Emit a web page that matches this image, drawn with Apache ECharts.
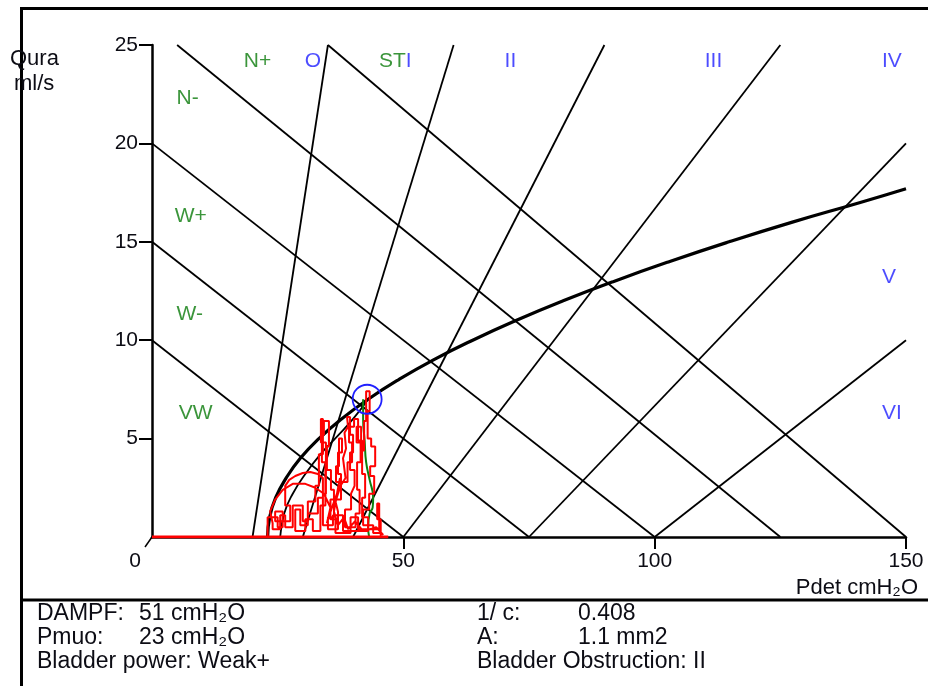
<!DOCTYPE html>
<html><head><meta charset="utf-8">
<script src="https://cdn.jsdelivr.net/npm/echarts@6/dist/echarts.min.js"></script>
<style>html,body{margin:0;padding:0;background:#fff}#c{width:928px;height:686px}</style>
</head><body><div id="c"></div>
<script>
const FONT = '"Liberation Sans", Arial, sans-serif';
const xLabelValues = [0, 50, 100, 150];
const xTickValues = [50, 100, 150];
const yTickValues = [5, 10, 15, 20, 25];

// bladder power (descending) lines: [pdet0, Q0, pdet1, Q1]
const powerLines = [[0, 10, 50, 0], [0, 15, 75, 0], [0, 20, 100, 0], [5, 25, 125, 0], [35, 25, 150, 0]];
// obstruction (ascending) lines
const obstructionLines = [[20, 0, 35, 25], [30, 0, 60, 25], [40, 0, 90, 25], [50, 0, 125, 25], [75, 0, 150, 20], [100, 0, 150, 10]];

// PURR curve
const purrP = [23, 23.4, 24.6, 26.7, 29.5, 33.2, 37.7, 43, 49.1, 56, 63.8, 72.4, 81.8, 92, 103, 114.8, 127.4, 140.9, 150];
const purrQ = [0, 1, 2, 3, 4, 5, 6, 7, 8, 9, 10, 11, 12, 13, 14, 15, 16, 17, 17.7];

// inner curve around the trace
const innerP = [25.5, 26.3, 28.0, 30.5, 33.5, 36.8, 40.0, 43.0];
const innerQ = [0, 1.2, 2.2, 3.2, 4.2, 5.1, 6.0, 7.0];

// pressure-flow trace (red)
const traceP = [23.0,23.0,25.0,25.0,26.0,26.0,24.5,24.5,27.5,27.5,26.5,26.5,27.3,28.5,30.0,31.5,33.0,34.0,34.0,33.0,33.0,31.0,31.0,29.5,29.5,28.5,28.5,30.5,30.5,32.0,32.0,33.5,33.5,34.5,34.5,33.8,33.8,34.2,34.2,35.2,35.2,34.8,34.8,35.6,35.6,36.2,36.2,35.0,35.0,37.0,37.0,36.5,37.5,38.5,38.0,38.6,38.3,39.0,38.8,39.4,39.4,40.0,40.0,39.4,39.4,40.3,40.3,39.6,39.6,38.4,38.4,40.5,40.5,41.3,41.3,40.8,40.8,41.5,41.5,40.7,40.7,41.6,41.6,42.2,42.2,42.6,42.6,43.3,43.3,42.9,42.9,43.6,43.6,44.4,44.4,43.4,43.4,44.2,44.2,43.2,43.2,42.0,42.0,44.0,44.0,45.5,45.5,
  45.5,44.8,44.8,45.2,45.2,41.0,41.0,39.5,39.5,36.5,36.5,35.5,35.5,37.6,37.6,37.0,37.0,37.8,37.8,37.2,37.2,36.6,36.6,38.9,38.9,39.8,39.8,39.2,39.2,40.2,40.2,41.0,41.0,41.8,41.8,42.4,42.4,41.8,41.8,43.0,43.0,
  38.0,38.0,36.0,36.0,34.0,34.0,34.6,34.6,33.6,33.6,34.0,34.0,33.2,33.2,32.5,32.5,31.0,31.0,30.0,30.0,28.0,28.0,26.5,26.5,25.5,25.5,24.0,24.0,23.5,24.5,26.0,28.0,30.5,32.5,34.2,35.5,35.5,34.8,34.8,35.8,35.8,36.8,36.8,37.4,37.4,36.2,36.2,37.0,37.0,38.2,38.2,39.0,39.0,40.4,40.4,42.0,42.0,44.6,44.6,46.0,46.0];
const traceQ = [0.0,1.0,1.0,0.5,0.5,1.3,1.3,0.8,0.8,1.6,1.6,2.6,2.9,3.1,3.25,3.3,3.2,3.0,2.0,2.0,1.2,1.2,0.6,0.6,1.4,1.4,0.3,0.3,0.9,0.9,0.3,0.3,1.6,1.6,3.8,3.8,5.2,5.2,5.9,5.9,4.6,4.6,3.4,3.4,2.4,2.4,1.0,1.0,0.4,0.4,1.3,1.8,2.6,3.0,4.0,4.5,5.3,5.6,6.1,6.1,5.2,5.2,4.3,4.3,3.4,3.4,2.6,2.2,1.4,1.4,0.5,0.5,1.2,1.2,2.4,2.4,3.8,3.8,4.8,4.8,5.6,5.6,4.4,4.4,5.9,5.9,7.4,7.4,6.4,6.4,5.0,5.0,4.6,4.6,3.6,3.6,3.1,3.1,2.2,2.2,1.4,1.4,0.6,0.6,0.2,0.2,0.0,
  0.9,0.9,1.7,1.7,0.4,0.4,1.0,1.0,0.2,0.2,0.9,0.9,1.9,1.9,3.2,3.2,4.3,4.3,5.0,5.0,3.6,3.6,2.8,2.8,3.8,3.8,4.8,4.8,5.6,5.6,6.0,6.0,4.9,4.9,3.2,3.2,2.0,2.0,1.0,1.0,0.3,
  0.3,1.1,1.1,0.6,0.6,2.2,2.2,4.8,4.8,6.0,6.0,4.2,4.2,2.6,2.6,1.8,1.8,0.8,0.8,1.6,1.6,0.5,0.5,1.1,1.1,0.4,0.4,0.7,1.3,1.9,2.4,2.7,2.7,2.5,2.2,1.5,1.5,0.7,0.7,1.5,1.5,2.2,2.2,3.0,3.0,1.3,1.3,0.6,0.6,1.0,1.0,0.4,0.4,0.8,0.8,0.3,0.3,0.5,0.5,0.1,0.1];
const baselineP = [0, 47];
const baselineQ = [0, 0];

// green curve
const greenP = [42.0, 42.0, 42.3, 42.6, 43.3, 44.0, 43.9, 43.3, 43.0, 43.2];
const greenQ = [7.0, 6.0, 4.9, 3.8, 2.9, 2.0, 1.5, 1.2, 0.5, 0.0];

// marked point
const pointP = [42.8];
const pointQ = [7.0];

// zone labels
const zoneNames = ['N+', 'O', 'ST|I', 'II', 'III', 'IV', 'V', 'VI', 'N-', 'W+', 'W-', 'VW'];
const zoneP = [21.0, 32.0, 48.4, 71.3, 111.7, 147.2, 146.6, 147.2, 7.1, 7.7, 7.5, 8.7];
const zoneQ = [24.2, 24.2, 24.2, 24.2, 24.2, 24.2, 13.2, 6.3, 22.3, 16.3, 11.3, 6.3];
const zoneGroup = ['g', 'b', 'gb', 'b', 'b', 'b', 'b', 'b', 'g', 'g', 'g', 'g'];

const infoLeft = [['DAMPF:', '51 cmH₂O'], ['Pmuo:', '23 cmH₂O'], ['Bladder power: Weak+', '']];
const infoRight = [['1/ c:', '0.408'], ['A:', '1.1 mm2'], ['Bladder Obstruction: II', '']];

const GREEN = '#0a7a0a';
const BLUE = '#1f1fff';
const TXT = '#0c0c14';

const zip = (a, b) => a.map((v, i) => [v, b[i]]);

const series = [];
powerLines.concat(obstructionLines).forEach(l => {
  series.push({type: 'line', data: [[l[0], l[1]], [l[2], l[3]]], symbol: 'none', silent: true,
    lineStyle: {color: '#000', width: 1.8}, z: 2});
});
series.push({type: 'line', data: zip(purrP, purrQ), symbol: 'none', smooth: true, silent: true,
  lineStyle: {color: '#000', width: 3.2}, z: 3});
series.push({type: 'line', data: zip(innerP, innerQ), symbol: 'none', smooth: true, silent: true,
  lineStyle: {color: '#000', width: 1.8}, z: 3});
series.push({type: 'line', data: zip(traceP, traceQ), symbol: 'none', silent: true,
  lineStyle: {color: '#ff0000', width: 2}, z: 5});
series.push({type: 'line', data: zip(baselineP, baselineQ), symbol: 'none', silent: true,
  lineStyle: {color: '#ff0000', width: 3}, z: 6});
series.push({type: 'line', data: zip(greenP, greenQ), symbol: 'none', smooth: true, silent: true,
  lineStyle: {color: '#0f800f', width: 2}, z: 4});
series.push({type: 'scatter', data: zip(pointP, pointQ), symbol: 'circle', symbolSize: 29, silent: true,
  itemStyle: {color: 'rgba(255,255,255,0)', borderColor: '#2020ff', borderWidth: 1.8, opacity: 1}, z: 7});
series.push({type: 'scatter', symbolSize: 1, silent: true, itemStyle: {color: 'rgba(0,0,0,0)'}, z: 8,
  data: zoneNames.map((n, i) => ({value: [zoneP[i], zoneQ[i]], name: n})),
  label: {show: true, position: 'inside', fontFamily: FONT, fontSize: 21,
    formatter: p => {
      const g = zoneGroup[p.dataIndex];
      if (g === 'gb') { const s = p.name.split('|'); return '{g|' + s[0] + '}{b|' + s[1] + '}'; }
      return '{' + g + '|' + p.name + '}';
    },
    rich: {g: {color: GREEN, fontSize: 21, fontFamily: FONT}, b: {color: BLUE, fontSize: 21, fontFamily: FONT}}
  }
});

const PF = '23px ' + FONT;
const graphic = [
  {type: 'rect', shape: {x: 21.5, y: 8.5, width: 930, height: 700}, style: {fill: 'none', stroke: '#000', lineWidth: 3}, silent: true},
  {type: 'line', shape: {x1: 21.5, y1: 600, x2: 940, y2: 600}, style: {stroke: '#000', lineWidth: 3}, silent: true},
  {type: 'line', shape: {x1: 145, y1: 547, x2: 152, y2: 537}, style: {stroke: '#000', lineWidth: 1.5}, silent: true},
  {type: 'text', left: 10, top: 48, style: {text: 'Qura', font: '22px ' + FONT, fill: TXT}},
  {type: 'text', left: 14, top: 73, style: {text: 'ml/s', font: '22px ' + FONT, fill: TXT}},
  {type: 'text', right: 10, top: 577, style: {text: 'Pdet cmH₂O', font: '22px ' + FONT, fill: TXT}}
];
const rowsY = [602, 626, 650];
infoLeft.forEach((r, i) => {
  graphic.push({type: 'text', left: 37, top: rowsY[i], style: {text: r[0], font: PF, fill: TXT}});
  if (r[1]) graphic.push({type: 'text', left: 139, top: rowsY[i], style: {text: r[1], font: PF, fill: TXT}});
});
infoRight.forEach((r, i) => {
  graphic.push({type: 'text', left: 477, top: rowsY[i], style: {text: r[0], font: PF, fill: TXT}});
  if (r[1]) graphic.push({type: 'text', left: 578, top: rowsY[i], style: {text: r[1], font: PF, fill: TXT}});
});

const chart = echarts.init(document.getElementById('c'), null, {renderer: 'canvas'});
chart.setOption({
  animation: false,
  backgroundColor: '#fff',
  grid: {left: 152, right: 22, top: 45, bottom: 149},
  xAxis: {type: 'value', min: 0, max: 150, interval: 50,
    axisLine: {show: true, onZero: false, lineStyle: {color: '#000', width: 2.5}},
    axisTick: {show: true, length: 12, lineStyle: {color: '#000', width: 2}, customValues: xTickValues},
    axisLabel: {margin: 14, fontFamily: FONT, fontSize: 21, color: TXT, customValues: xLabelValues,
      formatter: v => v === 0 ? '{z|0}' : String(v),
      rich: {z: {padding: [0, 34, 0, 0], fontFamily: FONT, fontSize: 21, color: TXT}}},
    splitLine: {show: false}},
  yAxis: {type: 'value', min: 0, max: 25, interval: 5,
    axisLine: {show: true, onZero: false, lineStyle: {color: '#000', width: 2.5}},
    axisTick: {show: true, length: 13, lineStyle: {color: '#000', width: 2}, customValues: yTickValues},
    axisLabel: {margin: 14, fontFamily: FONT, fontSize: 21, color: TXT, customValues: yTickValues},
    splitLine: {show: false}},
  series: series,
  graphic: graphic
});
</script></body></html>
